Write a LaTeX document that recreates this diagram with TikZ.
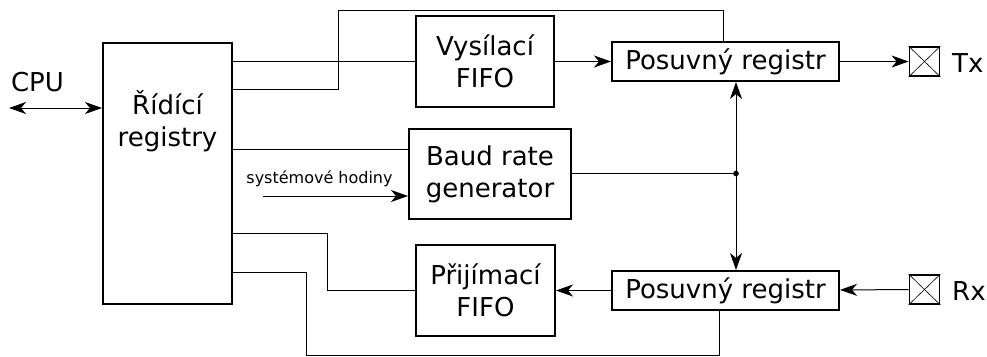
\documentclass[tikz,border=0pt]{standalone}
\usepackage{fontspec}
\setmainfont{DejaVu Sans}
\usetikzlibrary{arrows.meta}
\tikzstyle{blk}=[draw=black,line width=2pt,align=center,inner sep=0pt,
  font=\fontsize{26}{32}\selectfont]
\tikzstyle{lbl}=[align=center,inner sep=0pt,font=\fontsize{26}{32}\selectfont]
\tikzstyle{pin}=[draw=black,line width=1.8pt,minimum width=30pt,
  minimum height=29pt,inner sep=0pt]
\tikzstyle{wire}=[line width=1pt]
\tikzstyle{arr}=[wire,-{Stealth[length=17pt,width=12pt,inset=5pt]}]
\tikzstyle{darr}=[wire,{Stealth[length=17pt,width=12pt,inset=5pt]}-{Stealth[length=17pt,width=12pt,inset=5pt]}]

\begin{document}
\begin{tikzpicture}[x=1pt,y=-1pt]
    \useasboundingbox (0,0) rectangle (987,356);
    % blocks
    \node [blk,minimum width=129pt,minimum height=261pt] (ctrl) at (167.5,173.5) {};
    \node [lbl] (ctrllbl) at (167.5,121) {Řídící\\registry};
    \node [blk,minimum width=138pt,minimum height=91pt] (txfifo) at (485,61.5) {Vysílací\\FIFO};
    \node [blk,minimum width=162pt,minimum height=90pt] (baud) at (490,174) {Baud rate\\generator};
    \node [blk,minimum width=139pt,minimum height=91pt] (rxfifo) at (485.5,290.5) {Přijímací\\FIFO};
    \node [blk,minimum width=227pt,minimum height=39pt] (txsr) at (725.5,61.5) {Posuvný registr};
    \node [blk,minimum width=227pt,minimum height=39pt] (rxsr) at (725.5,290.5) {Posuvný registr};
    \node [pin] (txpin) at (924.5,61.5) {};
    \node [pin] (rxpin) at (924.5,289.5) {};
    \draw [line width=0.6pt] (txpin.north west) -- (txpin.south east) (txpin.south west) -- (txpin.north east);
    \draw [line width=0.6pt] (rxpin.north west) -- (rxpin.south east) (rxpin.south west) -- (rxpin.north east);
    \node [lbl,anchor=base west] (txlbl) at (952,72) {Tx};
    \node [lbl,anchor=base west] (rxlbl) at (952,300) {Rx};
    \node [lbl,anchor=base] (cpulbl) at (37.5,91) {CPU};
    \node [anchor=base,inner sep=0pt,font=\fontsize{16}{19}\selectfont] (clklbl) at (319.5,183) {systémové hodiny};
    % connections
    \coordinate (cpu) at (9,108);
    \coordinate (clk) at (263,196);
    \coordinate (jn) at (736,173.5);
    \draw [darr] (cpu) -- (ctrl.west |- cpu);
    \draw [wire] (ctrl.east |- txfifo.west) -- (txfifo.west);
    \draw [wire] (ctrl.east |- 0,89) -| (338,10) -| ([xshift=-2.5pt]txsr.north);
    \draw [wire] (ctrl.east |- 0,149) -- (baud.west |- 0,149);
    \draw [arr] (clk) -- (baud.west |- clk);
    \draw [wire] (ctrl.east |- 0,233) -| (327,290.5) -- (rxfifo.west);
    \draw [wire] (ctrl.east |- 0,272) -| (306,355) -| ([xshift=-6.5pt]rxsr.south);
    \draw [arr] (txfifo) -- (txsr);
    \draw [arr] (txsr) -- (txpin);
    \draw [arr] (rxpin) -- (rxsr);
    \draw [arr] (rxsr) -- (rxfifo);
    \draw [wire] (baud.east |- jn) -- (jn);
    \draw [arr] (jn) -- (txsr.south -| jn);
    \draw [arr] (jn) -- (rxsr.north -| jn);
    \fill (jn) circle (2.8pt);
\end{tikzpicture}
\end{document}
